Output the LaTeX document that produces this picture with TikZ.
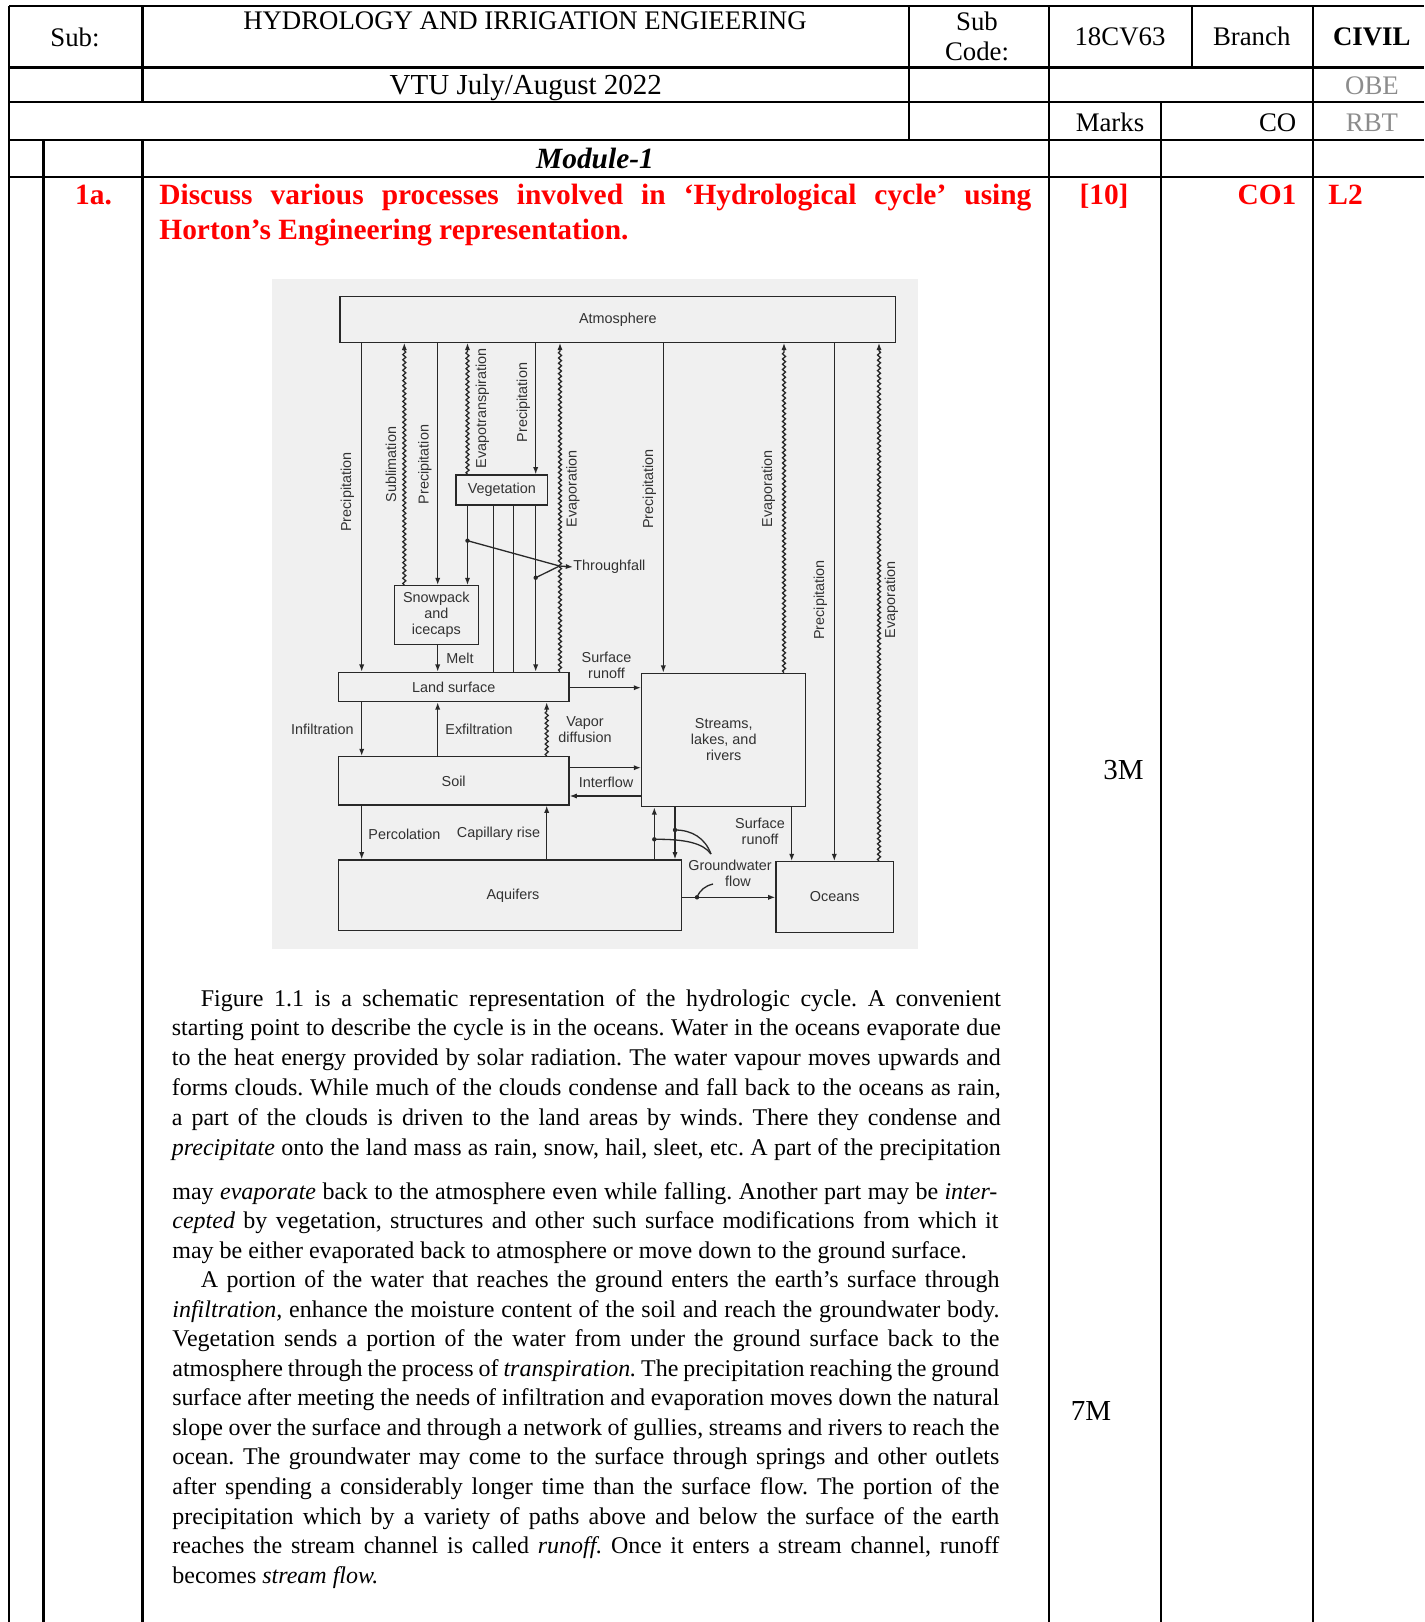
\documentclass[tikz,border=0pt]{standalone}
\usepackage{fontspec}
\setmainfont{Liberation Serif}
\newfontfamily\dgfont{Liberation Sans}
\usetikzlibrary{arrows.meta,decorations.pathmorphing}
\definecolor{qred}{RGB}{255,0,0}
\definecolor{lgray}{RGB}{140,140,140}
\definecolor{dgline}{RGB}{40,40,40}
\definecolor{dgtext}{RGB}{50,50,50}
\definecolor{dgbg}{RGB}{240,240,240}
\frenchspacing
\begin{document}
\frenchspacing
\begin{tikzpicture}[x=0.5pt,y=-0.5pt,
  tl/.style={line width=1.25pt},
  hd/.style={anchor=base,inner sep=0pt,font=\fontsize{13.4pt}{16pt}\selectfont},
  qb/.style={anchor=base,inner sep=0pt,text=qred,font=\fontsize{14.7pt}{17.5pt}\selectfont\bfseries},
  body/.style={anchor=base west,inner sep=0pt,font=\fontsize{12pt}{14.4pt}\selectfont},
  box/.style={draw=dgline,line width=0.65pt,fill=dgbg,inner sep=0pt,align=center,text=dgtext,font=\dgfont\fontsize{7.2pt}{8pt}\selectfont},
  lab/.style={inner sep=0pt,align=center,text=dgtext,font=\dgfont\fontsize{7.2pt}{7.9pt}\selectfont},
  rlab/.style={lab,rotate=90},
  plain/.style={draw=dgline,line width=0.65pt},
  flow/.style={plain,-{Latex[length=3.6pt,width=2.6pt]}},
  wavy/.style={flow,decorate,decoration={snake,amplitude=0.75pt,segment length=2.6pt,post length=3.6pt}},
  dot/.style={fill=dgline}]
\useasboundingbox (0,0) rectangle (1424,1622);
\fill[white] (0,0) rectangle (1424,1622);

% ---------------- table rules ----------------
\draw[tl] (9,6) -- (1424,6);
\draw[tl] (9,67.7) -- (1424,67.7);
\draw[tl] (9,102) -- (1424,102);
\draw[tl] (9,140) -- (1424,140);
\draw[tl] (9,177) -- (1424,177);
\draw[tl] (9,6) -- (9,1622);
\draw[tl] (43.6,140) -- (43.6,1622);
\draw[tl] (142.6,6) -- (142.6,102);
\draw[tl] (142.6,140) -- (142.6,1622);
\draw[tl] (909,6) -- (909,140);
\draw[tl] (1049,6) -- (1049,1622);
\draw[tl] (1192,6) -- (1192,67.7);
\draw[tl] (1161,102) -- (1161,1622);
\draw[tl] (1313,6) -- (1313,1622);

% ---------------- header texts ----------------
\node[hd] (sub) at (75,46.5) {Sub:};
\node[hd] (title) at (525,29.5) {HYDROLOGY AND IRRIGATION ENGIEERING};
\node[hd] (subc1) at (977,30.3) {Sub};
\node[hd] (subc2) at (977,61) {Code:};
\node[hd] (code) at (1120,46) {18CV63};
\node[hd] (branch) at (1251.7,46) {Branch};
\node[hd,font=\fontsize{13.4pt}{16pt}\selectfont\bfseries] (civil) at (1371.8,46) {CIVIL};
\node[hd,font=\fontsize{14.5pt}{17pt}\selectfont] (vtu) at (525.8,94) {VTU July/August 2022};
\node[hd,text=lgray] (obe) at (1372,94) {OBE};
\node[hd] (marks) at (1110,131) {Marks};
\node[hd] (co) at (1277.6,131) {CO};
\node[hd,text=lgray] (rbt) at (1372,131) {RBT};
\node[hd,font=\fontsize{14.7pt}{17pt}\selectfont\bfseries\itshape] (mod) at (595,168.3) {Module-1};
\node[qb] (qn) at (93.6,204) {1a.};
\node[qb,anchor=base west] (q1) at (159,204) {\makebox[436pt][s]{Discuss various processes involved in ‘Hydrological cycle’ using}};
\node[qb,anchor=base west] (q2) at (159,239.3) {Horton’s Engineering representation.};
\node[qb] (mk) at (1104,204) {[10]};
\node[qb] (co1) at (1267,204) {CO1};
\node[qb,anchor=base west] (l2) at (1328,204) {L2};
\node[hd,font=\fontsize{14.5pt}{17pt}\selectfont] (m3) at (1123.5,779) {3M};
\node[hd,font=\fontsize{14.5pt}{17pt}\selectfont] (m7) at (1091,1420) {7M};

% ---------------- diagram ----------------
\fill[dgbg] (272,279) rectangle (918,949);

\node[box,minimum width=277.85pt,minimum height=22.85pt] (atm) at (617.85,319.35) {Atmosphere};
\node[box,minimum width=45.85pt,minimum height=15pt] (veg) at (501.85,490) {Vegetation};
\node[box,minimum width=42pt,minimum height=29.3pt] (snow) at (436.3,615) {Snowpack\\and\\icecaps};
\node[box,minimum width=115.35pt,minimum height=14.7pt] (land) at (453.65,687) {Land surface};
\node[box,minimum width=115.35pt,minimum height=24.15pt] (soil) at (453.65,780.85) {Soil};
\node[box,minimum width=171.7pt,minimum height=35.35pt] (aqu) at (510,895.35) {\hspace*{3pt}Aquifers};
\node[box,minimum width=82pt,minimum height=66.7pt] (strm) at (723.7,740) {Streams,\\lakes, and\\rivers};
\node[box,minimum width=58.65pt,minimum height=35.3pt] (ocn) at (834.65,897) {Oceans};

% x positions of the vertical flows
\coordinate (xa) at (361.7,0);
\coordinate (xb) at (404.3,0);
\coordinate (xc) at (437.7,0);
\coordinate (xd) at (467.5,0);
\coordinate (xf) at (493.3,0);
\coordinate (xg) at (513.3,0);
\coordinate (xh) at (535.7,0);
\coordinate (xj) at (546.7,0);
\coordinate (xi) at (560,0);
\coordinate (xk) at (663.3,0);
\coordinate (xo) at (654.3,0);
\coordinate (xp) at (675,0);
\coordinate (xl) at (784,0);
\coordinate (xq) at (791.7,0);
\coordinate (xm) at (834.3,0);
\coordinate (xn) at (879,0);
% y positions of horizontal flows
\coordinate (ya) at (0,687.7);
\coordinate (yb) at (0,767.7);
\coordinate (yc) at (0,796);
\coordinate (yd) at (0,897.3);

% atmosphere exchanges
\draw[flow] (atm.south -| xa) -- (land.north -| xa);
\draw[wavy] (snow.north -| xb) -- (atm.south -| xb);
\draw[flow] (atm.south -| xc) -- (snow.north -| xc);
\draw[wavy] (veg.north -| xd) -- (atm.south -| xd);
\draw[flow] (atm.south -| xh) -- (veg.north -| xh);
\draw[wavy] (land.north -| xi) -- (atm.south -| xi);
\draw[flow] (atm.south -| xk) -- (strm.north -| xk);
\draw[wavy] (strm.north -| xl) -- (atm.south -| xl);
\draw[flow] (atm.south -| xm) -- (ocn.north -| xm);
\draw[wavy] (ocn.north -| xn) -- (atm.south -| xn);

% vegetation outflows
\draw[flow] (veg.south -| xd) -- (snow.north -| xd);
\draw[plain] (veg.south -| xf) -- (land.north -| xf);
\draw[plain] (veg.south -| xg) -- (land.north -| xg);
\draw[flow] (veg.south -| xh) -- (land.north -| xh);
\coordinate (d1) at (467.5,540.7);
\coordinate (d2) at (535.7,577.7);
\coordinate (tj) at (559.5,566);
\fill[dot] (d1) circle[radius=1.1pt];
\fill[dot] (d2) circle[radius=1.1pt];
\node[lab,anchor=west] (tf) at (573,567) {Throughfall};
\draw[plain] (d1) -- (tj);
\draw[plain] (d2) -- (tj);
\draw[flow] (tj) -- (tf.west);

% snow melt
\draw[flow] (snow.south -| xc) -- (land.north -| xc);

% land / soil / aquifers
\draw[flow] (land.south -| xa) -- (soil.north -| xa);
\draw[flow] (soil.north -| xc) -- (land.south -| xc);
\draw[wavy] (soil.north -| xj) -- (land.south -| xj);
\draw[flow] (soil.south -| xa) -- (aqu.north -| xa);
\draw[flow] (aqu.north -| xj) -- (soil.south -| xj);

% to streams
\draw[flow] (land.east |- ya) -- (strm.west |- ya);
\draw[flow] (soil.east |- yb) -- (strm.west |- yb);
\draw[flow] (strm.west |- yc) -- (soil.east |- yc);
\draw[flow] (aqu.north -| xo) -- (strm.south -| xo);
\draw[flow] (strm.south -| xp) -- (aqu.north -| xp);
\draw[flow] (strm.south -| xq) -- (ocn.north -| xq);
\draw[flow] (aqu.east |- yd) -- (ocn.west |- yd);

% groundwater leaders
\coordinate (g1) at (675,830);
\coordinate (g2) at (654.3,839.3);
\coordinate (g3) at (697,897.3);
\coordinate (gj) at (711,854);
\coordinate (gk) at (713,884);
\fill[dot] (g1) circle[radius=1.1pt];
\fill[dot] (g2) circle[radius=1.1pt];
\fill[dot] (g3) circle[radius=1.1pt];
\draw[plain] (g1) .. controls (692,830) and (705,838) .. (gj);
\draw[plain] (g2) .. controls (685,839) and (703,843) .. (gj);
\draw[plain] (g3) .. controls (700,890) and (705,886) .. (gk);

% labels
\node[rlab] (lpa) at (347.5,492) {Precipitation};
\node[rlab] (lsb) at (391,464.5) {Sublimation};
\node[rlab] (lpc) at (425,464.5) {Precipitation};
\node[rlab] (let) at (482.5,408.5) {Evapotranspiration};
\node[rlab] (lph) at (523.3,402.5) {Precipitation};
\node[rlab] (lei) at (573,489) {Evaporation};
\node[rlab] (lpk) at (649.4,489) {Precipitation};
\node[rlab] (lel) at (768.3,489) {Evaporation};
\node[rlab] (lpm) at (820.5,600) {Precipitation};
\node[rlab] (len) at (891.5,600) {Evaporation};
\node[lab,anchor=west] (lmelt) at (446,658) {Melt};
\node[lab,anchor=east] (linf) at (354,729) {Infiltration};
\node[lab,anchor=west] (lexf) at (445,729) {Exfiltration};
\node[lab] (lvap) at (585,730) {Vapor\\diffusion};
\node[lab] (lsr1) at (606.5,665.5) {Surface\\runoff};
\node[lab] (lint) at (606,782) {Interflow};
\node[lab,anchor=west] (lperc) at (368,834) {Percolation};
\node[lab,anchor=west] (lcap) at (456.5,834) {Capillary rise};
\node[lab] (lsr2) at (760,831) {Surface\\runoff};
\node[lab] (lgw) at (730,873.5) {Groundwater\\\hspace*{8pt}flow};

% ---------------- body text ----------------
\node[body] (b1) at (200.5,1006) {\makebox[400pt][s]{Figure 1.1 is a schematic representation of the hydrologic cycle. A convenient}};
\node[body] (b2) at (171.5,1035.8) {\makebox[414.5pt][s]{starting point to describe the cycle is in the oceans. Water in the oceans evaporate due}};
\node[body] (b3) at (171.5,1065.6) {\makebox[414.5pt][s]{to the heat energy provided by solar radiation. The water vapour moves upwards and}};
\node[body] (b4) at (171.5,1095.4) {\makebox[414.5pt][s]{forms clouds. While much of the clouds condense and fall back to the oceans as rain,}};
\node[body] (b5) at (171.5,1125.2) {\makebox[414.5pt][s]{a part of the clouds is driven to the land areas by winds. There they condense and}};
\node[body] (b6) at (171.5,1155) {\makebox[414.5pt][s]{\textit{precipitate} onto the land mass as rain, snow, hail, sleet, etc. A part of the precipitation}};

\node[body] (c1) at (172,1199) {\makebox[412.5pt][s]{may \textit{evaporate} back to the atmosphere even while falling. Another part may be \textit{inter-}}};
\node[body] (c2) at (172,1228.55) {\makebox[413pt][s]{\textit{cepted} by vegetation, structures and other such surface modifications from which it}};
\node[body] (c3) at (172,1258.1) {may be either evaporated back to atmosphere or move down to the ground surface.};
\node[body] (c4) at (200.5,1287.65) {\makebox[399.3pt][s]{A portion of the water that reaches the ground enters the earth’s surface through}};
\node[body] (c5) at (172,1317.2) {\makebox[413.5pt][s]{\textit{infiltration,} enhance the moisture content of the soil and reach the groundwater body.}};
\node[body] (c6) at (172,1346.75) {\makebox[413.5pt][s]{Vegetation sends a portion of the water from under the ground surface back to the}};
\node[body] (c7) at (172,1376.3) {\makebox[413.5pt][s]{atmosphere through the process of \textit{transpiration.} The precipitation reaching the ground}};
\node[body] (c8) at (172,1405.85) {\makebox[413.5pt][s]{surface after meeting the needs of infiltration and evaporation moves down the natural}};
\node[body] (c9) at (172,1435.4) {\makebox[413.5pt][s]{slope over the surface and through a network of gullies, streams and rivers to reach the}};
\node[body] (c10) at (172,1464.95) {\makebox[413.5pt][s]{ocean. The groundwater may come to the surface through springs and other outlets}};
\node[body] (c11) at (172,1494.5) {\makebox[413.5pt][s]{after spending a considerably longer time than the surface flow. The portion of the}};
\node[body] (c12) at (172,1524.05) {\makebox[413.5pt][s]{precipitation which by a variety of paths above and below the surface of the earth}};
\node[body] (c13) at (172,1553.6) {\makebox[413.5pt][s]{reaches the stream channel is called \textit{runoff.} Once it enters a stream channel, runoff}};
\node[body] (c14) at (172,1583.15) {becomes \textit{stream flow.}};
\end{tikzpicture}
\end{document}
